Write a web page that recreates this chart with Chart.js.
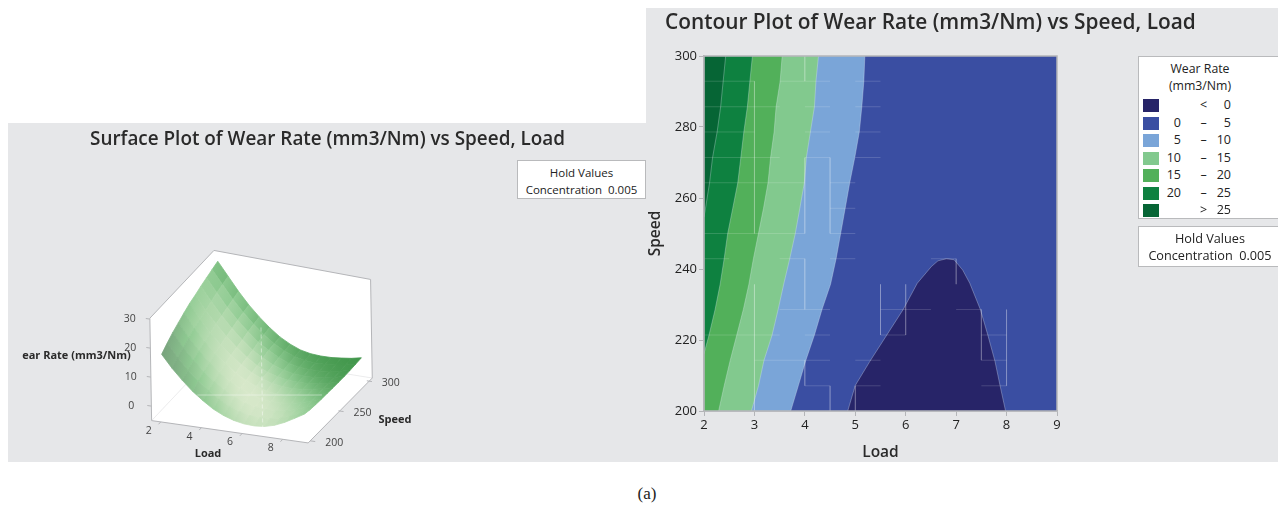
<!DOCTYPE html>
<html>
<head>
<meta charset="utf-8">
<script src="https://cdn.jsdelivr.net/npm/chart.js"></script>
<style>
html, body { margin: 0; padding: 0; background: #fff; }
body { width: 1278px; height: 506px; position: relative; overflow: hidden; font-family: "Open Sans", sans-serif; color: #222; }
.panel { position: absolute; background: #e6e7e9; }
.panel canvas { position: absolute; left: 0; top: 0; }
.title { position: absolute; font-weight: 600; font-size: 18.9px; white-space: nowrap; color: #2a2a2a; }
.box { position: absolute; background: #fff; border: 1px solid #b9babc; box-sizing: border-box; font-size: 11.5px; text-align: center; line-height: 17px; white-space: nowrap; }
.legendRow { position: absolute; left: 0; width: 100%; height: 14px; font-size: 12.5px; line-height: 12px; }
.legendRow i { position: absolute; left: 4px; top: 0; width: 16px; height: 13px; }
.legendRow span { position: absolute; top: 0; }
#caption { position: absolute; left: 0; top: 484px; width: 1294px; text-align: center; font-family: "Liberation Serif", serif; font-size: 17px; color: #222; }
</style>
</head>
<body>
<div class="panel" style="left:8px;top:123px;width:638px;height:339px"><canvas id="surfaceChart" width="638" height="339"></canvas></div>
<div class="panel" style="left:646px;top:8px;width:632px;height:454px"><canvas id="contourChart" width="632" height="454"></canvas></div>
<div class="title" style="left:90px;top:125px">Surface Plot of Wear Rate (mm3/Nm) vs Speed, Load</div>
<div class="title" style="left:665px;top:7px;font-size:20.85px">Contour Plot of Wear Rate (mm3/Nm) vs Speed, Load</div>
<div class="box" style="left:517px;top:160px;width:129px;height:39px;padding-top:3px">Hold Values<br>Concentration&nbsp; 0.005</div>
<div class="box" id="legendBox" style="left:1138px;top:56px;width:140px;height:163px;padding-top:3px;border-right:0;font-size:12.3px"><div style="width:122px">Wear Rate<br>(mm3/Nm)</div></div>
<div class="box" style="left:1138px;top:226px;width:140px;height:41px;padding-top:3px;border-right:0;font-size:12.7px"><div style="width:142px">Hold Values<br>Concentration&nbsp; 0.005</div></div>
<div id="caption">(a)</div>

<script>
// contour boundaries: load where the wear rate crosses each level
const boundarySpeeds = [300, 292.9, 285.7, 278.6, 271.4, 264.3, 257.1, 250, 242.9, 235.7, 228.6, 221.4, 214.3, 207.1, 200];
const loadAt5 = [5.19, 5.17, 5.13, 5.08, 4.99, 4.89, 4.80, 4.71, 4.62, 4.51, 4.34, 4.19, 4.02, 3.87, 3.72];
const loadAt10 = [4.27, 4.22, 4.19, 4.11, 4.03, 3.99, 3.90, 3.81, 3.70, 3.58, 3.47, 3.35, 3.19, 3.08, 2.94];
const loadAt15 = [3.55, 3.51, 3.43, 3.39, 3.32, 3.27, 3.18, 3.08, 2.98, 2.89, 2.78, 2.65, 2.52, 2.40, 2.29];
const speedsAt20 = [300, 292.9, 285.7, 278.6, 271.4, 264.3, 257.1, 250, 242.9, 235.7, 228.6, 221.4, 216.2];
const loadAt20 = [2.96, 2.91, 2.86, 2.79, 2.73, 2.67, 2.57, 2.47, 2.40, 2.32, 2.22, 2.10, 2.00];
const speedsAt25 = [300, 292.9, 285.7, 278.6, 271.4, 264.3, 257.1, 254.7];
const loadAt25 = [2.43, 2.38, 2.33, 2.26, 2.17, 2.11, 2.03, 2.00];
const belowZeroLoads = [4.85, 5.00, 5.29, 5.62, 5.95, 6.23, 6.51, 6.64, 6.81, 6.96, 7.13, 7.27, 7.48, 7.63, 7.77, 7.87, 7.98];
const belowZeroSpeeds = [200, 207.2, 214, 221.3, 228.6, 236, 240.7, 242.3, 242.9, 242.6, 239.7, 236, 228.6, 221.3, 214, 207.2, 200];

// leftover light seams in the contour image [load1, speed1, load2, speed2]
const seams = [
  [2,292.9,3,292.9],[3.5,292.9,4.5,292.9],[5,292.9,5.5,292.9],
  [2,285.7,3.5,285.7],[4,285.7,4.5,285.7],[5,285.7,5.5,285.7],
  [2,278.6,3,278.6],[4,278.6,4.5,278.6],[5,278.6,5.5,278.6],
  [2,271.4,3.5,271.4],[4,271.4,4.5,271.4],[5,271.4,5.5,271.4],
  [2,264.3,4,264.3],[4.5,264.3,5,264.3],[4.5,257.1,5,257.1],
  [2,250,4,250],[4.5,250,5,250],
  [2,242.9,2.5,242.9],[3.5,242.9,4,242.9],[4.5,242.9,5,242.9],[6.5,242.9,7,242.9],
  [3.5,228.6,4.5,228.6],[5.5,228.6,6.5,228.6],[7,228.6,7.5,228.6],
  [2,221.4,3.5,221.4],[4,221.4,4.5,221.4],[5.5,221.4,6,221.4],[7.5,221.4,8,221.4],
  [3,214.3,4.5,214.3],[5,214.3,5.5,214.3],[7.5,214.3,8,214.3],
  [4,207.1,4.5,207.1],[5,207.1,5.5,207.1],[7.5,207.1,8,207.1],
  [3,292.9,3,250],[3,235.7,3,200],[4,300,4,292.9],[4,271.4,4,250],[4,242.9,4,228.6],[4,214.3,4,207.1],
  [4.5,271.4,4.5,250],[4.5,207.1,4.5,200],[5,207.1,5,200],[5.5,235.7,5.5,221.4],[6,235.7,6,221.4],
  [7,242.9,7,235.7],[7.5,228.6,7.5,214.3],[8,228.6,8,207.1]
];

const legendLabels = [['', '<', '0'], ['0', '–', '5'], ['5', '–', '10'], ['10', '–', '15'], ['15', '–', '20'], ['20', '–', '25'], ['', '>', '25']];
const legendColors = ['#272468', '#3a4ea2', '#7aa5d8', '#82c98e', '#52b05a', '#0e8140', '#066535'];

// surface: wear rate per speed row, load runs 2 to 9 in steps of .5
const surfaceLoads = [2, 2.5, 3, 3.5, 4, 4.5, 5, 5.5, 6, 6.5, 7, 7.5, 8, 8.5, 9];
const surfaceSpeeds = [200, 210, 220, 230, 240, 250, 260, 270, 280, 290, 300];
const wearRows = [
  [17.6, 13.3, 9.6, 6.3, 3.6, 1.2, -0.5, -1.7, -2.4, -2.6, -2.3, -1.4, 0.1, 2.0, 4.0],
  [19.4, 14.9, 11.0, 7.8, 5.0, 2.6, 0.7, -0.6, -1.5, -1.8, -1.6, -1.0, 0.2, 1.8, 3.5],
  [21.0, 16.2, 12.4, 9.0, 6.1, 3.7, 1.8, 0.2, -0.6, -1.0, -1.0, -0.5, 0.4, 1.7, 3.2],
  [22.3, 17.6, 13.6, 10.0, 7.1, 4.6, 2.6, 1.1, 0.0, -0.4, -0.5, -0.1, 0.7, 1.8, 3.0],
  [23.6, 18.8, 14.7, 11.1, 8.1, 5.4, 3.3, 1.7, 0.6, 0.1, 0.0, 0.4, 1.0, 1.9, 2.9],
  [24.8, 19.7, 15.6, 12.0, 8.9, 6.1, 3.9, 2.3, 1.2, 0.6, 0.4, 0.7, 1.2, 1.9, 2.7],
  [25.6, 20.8, 16.6, 12.8, 9.5, 6.6, 4.2, 2.5, 1.4, 0.7, 0.5, 0.6, 1.0, 1.7, 2.6],
  [26.6, 21.8, 17.4, 13.5, 10.0, 7.0, 4.8, 2.9, 1.6, 0.9, 0.6, 0.6, 1.0, 1.6, 2.5],
  [27.4, 22.8, 18.2, 14.3, 10.8, 7.7, 5.4, 3.4, 1.9, 1.1, 0.8, 0.8, 1.1, 1.7, 2.5],
  [28.2, 23.5, 18.9, 14.9, 11.3, 8.2, 5.6, 3.6, 2.1, 1.3, 1.0, 1.0, 1.3, 1.8, 2.6],
  [29.0, 24.3, 19.6, 15.4, 11.8, 8.6, 5.9, 3.9, 2.4, 1.6, 1.3, 1.3, 1.6, 2.0, 2.7]
];
const loadTicks = [2, 4, 6, 8];
const speedTicks = [200, 250, 300];
const wearTicks = [0, 10, 20, 30];

const FONT = '"Open Sans", sans-serif';

// legend rows
legendLabels.forEach((row, i) => {
  const el = document.createElement('div');
  el.className = 'legendRow';
  el.style.top = (42 + i * 17.55) + 'px';
  el.innerHTML = `<i style="background:${legendColors[i]}"></i>` +
    `<span style="right:97px">${row[0]}</span><span style="left:60px;width:9px;text-align:center">${row[1]}</span><span style="right:47px">${row[2]}</span>`;
  document.getElementById('legendBox').appendChild(el);
});

// closed band: follows the boundary, then back along the left edge of the plot
function band(loads, speeds) {
  const pts = loads.map((l, i) => ({x: l, y: speeds[i]}));
  pts.push({x: 2, y: speeds[speeds.length - 1]}, {x: 2, y: speeds[0]}, {x: loads[0], y: speeds[0]});
  return pts;
}
function bandDataset(pts, color, edge) {
  return {data: pts, showLine: true, fill: 'shape', backgroundColor: color, borderColor: edge || color, borderWidth: edge ? 0.7 : 0, pointRadius: 0};
}

const seamPoints = [];
seams.forEach(s => seamPoints.push({x: s[0], y: s[1]}, {x: s[2], y: s[3]}, {x: NaN, y: NaN}));
const lowPts = belowZeroLoads.map((l, i) => ({x: l, y: belowZeroSpeeds[i]}));
const EDGE = 'rgba(225,235,245,.45)';

new Chart(document.getElementById('contourChart'), {
  type: 'scatter',
  data: {
    datasets: [
      {data: [{x: 2, y: 200}, {x: 2, y: 300}, {x: 9, y: 300}, {x: 9, y: 200}, {x: 2, y: 200}], showLine: true, borderColor: '#b4b5b8', borderWidth: 1.5, pointRadius: 0, clip: false},
      {data: seamPoints, showLine: true, spanGaps: false, borderColor: 'rgba(255,255,255,.2)', borderWidth: 0.8, pointRadius: 0},
      bandDataset(lowPts, legendColors[0], EDGE),
      bandDataset(band(loadAt25, speedsAt25), legendColors[6], EDGE),
      bandDataset(band(loadAt20, speedsAt20), legendColors[5], EDGE),
      bandDataset(band(loadAt15, boundarySpeeds), legendColors[4], EDGE),
      bandDataset(band(loadAt10, boundarySpeeds), legendColors[3], EDGE),
      bandDataset(band(loadAt5, boundarySpeeds), legendColors[2], EDGE),
      bandDataset(band([9, 9], [300, 200]), legendColors[1])
    ]
  },
  options: {
    responsive: false,
    animation: false,
    layout: {padding: {left: 0, right: 221, top: 48, bottom: 0}},
    plugins: {legend: {display: false}, tooltip: {enabled: false}},
    scales: {
      x: {
        type: 'linear', min: 2, max: 9,
        afterFit: s => { s.height = 51; },
        ticks: {stepSize: 1, color: '#222', font: {family: FONT, size: 13, weight: 500}, padding: 1, maxRotation: 0},
        grid: {drawOnChartArea: false, tickLength: 5, color: '#b4b5b8'},
        border: {color: '#b4b5b8', width: 1.5},
        title: {display: true, text: 'Load', color: '#2a2a2a', font: {family: FONT, size: 15.5, weight: 600}, padding: {top: 2, bottom: 0}}
      },
      y: {
        type: 'linear', min: 200, max: 300,
        afterFit: s => { s.width = 58; },
        ticks: {stepSize: 20, color: '#222', font: {family: FONT, size: 13, weight: 500}, padding: 2},
        grid: {drawOnChartArea: false, tickLength: 5, color: '#b4b5b8'},
        border: {color: '#b4b5b8', width: 1.5},
        title: {display: true, text: 'Speed', color: '#2a2a2a', font: {family: FONT, size: 15.5, weight: 600}, padding: {top: 0, bottom: 0}}
      }
    }
  }
});

// --- 3D surface, projected on a flat scatter chart ---
const PANEL_X = 8, PANEL_Y = 123;
function project(load, speed, wear) {
  return {
    x: 162.5 + 20.33 * (load - 2) + 0.567 * (speed - 200) - 0.05 * wear - PANEL_X,
    y: 405.3 + 2.9 * (load - 2) - 0.6 * (speed - 200) - 2.9 * wear - PANEL_Y
  };
}
const L0 = 1.55, L1 = 9.25, S0 = 196.5, S1 = 309.5, Z0 = -5, Z1 = 30.3;

function lerpColor(a, b, t) {
  return a.map((v, i) => v + (b[i] - v) * t);
}
// hand tuned shading: a bright diagonal band with darker edges on each side
function shade(load, speed) {
  const u = (load - 2) / 7, v = (speed - 200) / 100;
  const d = v - (0.866 - 1.16 * u);
  const r = u - v;
  const along = Math.max(0, 1 - Math.pow((r - 0.2) / 1.45, 2));
  const t = Math.exp(-d * d * 2.6) * along;
  const edge = d > 0 ? [63, 149, 73] : [111, 148, 117];
  const c = t < 0.5 ? lerpColor(edge, [143, 203, 146], t * 2) : lerpColor([143, 203, 146], [218, 233, 204], (t - 0.5) * 2);
  return `rgb(${c.map(Math.round).join(',')})`;
}

const surfaceCtx = document.getElementById('surfaceChart').getContext('2d');

// nearest quads first, chart.js paints the first dataset last
const quads = [];
for (let r = 0; r < surfaceSpeeds.length - 1; r++) {
  for (let c = surfaceLoads.length - 2; c >= 0; c--) {
    const pts = [
      project(surfaceLoads[c], surfaceSpeeds[r], wearRows[r][c]),
      project(surfaceLoads[c + 1], surfaceSpeeds[r], wearRows[r][c + 1]),
      project(surfaceLoads[c + 1], surfaceSpeeds[r + 1], wearRows[r + 1][c + 1]),
      project(surfaceLoads[c], surfaceSpeeds[r + 1], wearRows[r + 1][c])
    ];
    pts.push(pts[0]);
    // canvas px == data units on this chart, so the gradient can use the points directly
    const grad = surfaceCtx.createLinearGradient(pts[0].x, pts[0].y, pts[2].x, pts[2].y);
    grad.addColorStop(0, shade(surfaceLoads[c], surfaceSpeeds[r]));
    grad.addColorStop(1, shade(surfaceLoads[c + 1], surfaceSpeeds[r + 1]));
    quads.push({data: pts, showLine: true, fill: 'shape', backgroundColor: grad, borderColor: grad, borderWidth: 0.8, pointRadius: 0});
  }
}

function wire(corners, color, width, dash) {
  return {data: corners.map(c => project(c[0], c[1], c[2])), showLine: true, borderColor: color, borderWidth: width, borderDash: dash || [], pointRadius: 0, clip: false};
}
function wallFill(corners) {
  return {data: corners.map(c => project(c[0], c[1], c[2])), showLine: true, fill: 'shape', backgroundColor: '#fff', borderWidth: 0, pointRadius: 0};
}
const tickPoints = [];
loadTicks.forEach(l => {
  tickPoints.push(project(l, S0, Z0), project(l, S0 - 4, Z0), {x: NaN, y: NaN});
});
speedTicks.forEach(s => {
  tickPoints.push(project(L1, s, Z0), project(L1 + 0.25, s, Z0), {x: NaN, y: NaN});
});
wearTicks.forEach(z => {
  tickPoints.push(project(L0, S0, z), project(L0 - 0.2, S0, z), {x: NaN, y: NaN});
});

const GRAY = '#b4b5b8';
const BACK_TOP = Z1 - 2.3, BACK_BOTTOM = Z0 - 1;
const surfaceDatasets = [
  wire([[5.5, 250, 20], [5.5, 250, -15]], 'rgba(255,255,255,.55)', 0.8, [4, 3]),
  wire([[2.3, 250, -6.5], [8.45, 250, -0.35]], 'rgba(255,255,255,.5)', 0.8),
  ...quads,
  {data: tickPoints, showLine: true, spanGaps: false, borderColor: GRAY, borderWidth: 1, pointRadius: 0, clip: false},
  wire([[L0, S0, Z0], [L1, S0, Z0], [L1, S1, BACK_BOTTOM]], GRAY, 1),
  wire([[L0, S0, Z0], [L0, S0, Z1], [L0, S1, Z1], [L1, S1, BACK_TOP], [L1, S1, BACK_BOTTOM]], GRAY, 1),
  wire([[L0, S0, Z0], [L0, S1, Z0], [L1, S1, BACK_BOTTOM]], '#e9e9ea', 0.8),
  wallFill([[L0, S0, Z0], [L1, S0, Z0], [L1, S1, BACK_BOTTOM], [L0, S1, Z0], [L0, S0, Z0]]),
  wallFill([[L0, S0, Z0], [L0, S0, Z1], [L0, S1, Z1], [L0, S1, Z0], [L0, S0, Z0]]),
  wallFill([[L0, S1, Z0], [L0, S1, Z1], [L1, S1, BACK_TOP], [L1, S1, BACK_BOTTOM], [L0, S1, Z0]])
];

const axisText = {
  id: 'axisText',
  afterDatasetsDraw(chart) {
    const {ctx, scales: {x, y}} = chart;
    const put = (text, px, py, font, color) => {
      ctx.font = font;
      ctx.fillStyle = color;
      ctx.fillText(text, x.getPixelForValue(px), y.getPixelForValue(py));
    };
    ctx.save();
    ctx.textAlign = 'center';
    ctx.textBaseline = 'middle';
    const f = `10.5px ${FONT}`;
    loadTicks.forEach(l => { const p = project(l, S0, Z0); put(String(l), p.x - 12, p.y + 9, f, '#444'); });
    speedTicks.forEach(s => { const p = project(L1, s, Z0); put(String(s), p.x + 24, p.y + 2.5, f, '#444'); });
    wearTicks.forEach(z => { const p = project(L0, S0, z); put(String(z), p.x - 20, p.y, f, '#444'); });
    const b = `700 11px ${FONT}`;
    put('Load', 208 - PANEL_X, 454 - PANEL_Y, b, '#2a2a2a');
    put('Speed', 395 - PANEL_X, 420 - PANEL_Y, b, '#2a2a2a');
    put('ear Rate (mm3/Nm)', 76.5 - PANEL_X, 356 - PANEL_Y, b, '#2a2a2a');
    ctx.restore();
  }
};

new Chart(document.getElementById('surfaceChart'), {
  type: 'scatter',
  data: {datasets: surfaceDatasets},
  options: {
    responsive: false,
    animation: false,
    layout: {padding: 0},
    plugins: {legend: {display: false}, tooltip: {enabled: false}},
    scales: {
      x: {type: 'linear', min: 0, max: 638, display: false},
      y: {type: 'linear', min: 0, max: 339, reverse: true, display: false}
    }
  },
  plugins: [axisText]
});
</script>
</body>
</html>
